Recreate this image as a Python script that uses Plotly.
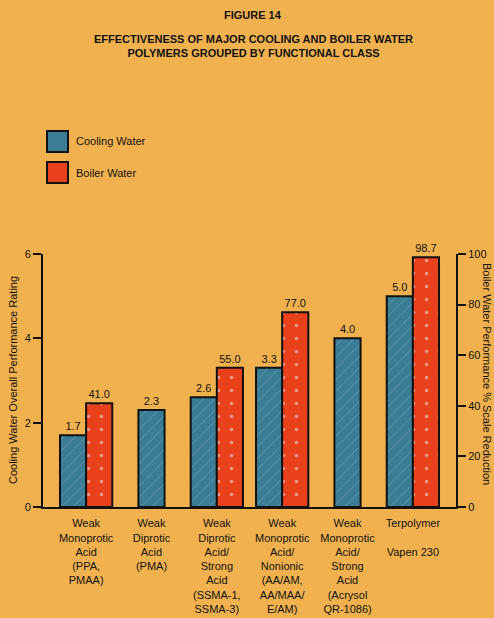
import plotly.graph_objects as go

categories = [
    "Weak<br>Monoprotic<br>Acid<br>(PPA,<br>PMAA)",
    "Weak<br>Diprotic<br>Acid<br>(PMA)",
    "Weak<br>Diprotic<br>Acid/<br>Strong<br>Acid<br>(SSMA-1,<br>SSMA-3)",
    "Weak<br>Monoprotic<br>Acid/<br>Nonionic<br>(AA/AM,<br>AA/MAA/<br>E/AM)",
    "Weak<br>Monoprotic<br>Acid/<br>Strong<br>Acid<br>(Acrysol<br>QR-1086)",
    "Terpolymer<br><br>Vapen 230",
]
cooling = [1.7, 2.3, 2.6, 3.3, 4.0, 5.0]
boiler = [41.0, None, 55.0, 77.0, None, 98.7]
cooling_ticks = [0, 2, 4, 6]
boiler_ticks = [0, 20, 40, 60, 80, 100]

W, H = 494, 618
L, R, T, B = 43, 456, 254, 507
BG = "#F1B14F"
BLUE = "#3C7D96"
RED = "#E9411B"
FONT = "Liberation Sans, Arial, sans-serif"

idx = list(range(len(categories)))
bw = 0.4
cool_x = [i - bw / 2 if b is not None else i for i, b in zip(idx, boiler)]
boil_x = [i + bw / 2 for i, b in zip(idx, boiler) if b is not None]
boil_y = [b for b in boiler if b is not None]

fig = go.Figure()
fig.add_trace(go.Bar(
    x=cool_x, y=cooling, width=bw, name="Cooling Water",
    marker=dict(color=BLUE, line=dict(color="#111", width=2),
                pattern=dict(shape="/", fgcolor="#d8ecf2", fgopacity=0.35, size=8, solidity=0.08)),
    texttemplate="%{y:.1f}", textposition="outside", cliponaxis=False,
    constraintext="none", textfont=dict(size=11, color="#111", family=FONT),
    yaxis="y",
))
fig.add_trace(go.Bar(
    x=boil_x, y=boil_y, width=bw, name="Boiler Water",
    marker=dict(color=RED, line=dict(color="#111", width=2),
                pattern=dict(shape=".", fgcolor="#ffffff", fgopacity=0.45, size=13, solidity=0.06)),
    texttemplate="%{y:.1f}", textposition="outside", cliponaxis=False,
    constraintext="none", textfont=dict(size=11, color="#111", family=FONT),
    yaxis="y2",
))

# pixel -> paper helpers
def px(x):
    return (x - L) / (R - L)

def py(y):
    return (B - y) / (B - T)

shapes = []
annotations = []
# legend boxes
for (y0, y1, col, label) in [(131, 152, BLUE, "Cooling Water"), (162, 183, RED, "Boiler Water")]:
    shapes.append(dict(type="rect", xref="paper", yref="paper",
                       x0=px(47), x1=px(68), y0=py(y1), y1=py(y0),
                       fillcolor=col, line=dict(color="#111", width=2)))
    annotations.append(dict(text=label, xref="paper", yref="paper", x=px(74), y=py((y0 + y1) / 2),
                            xanchor="left", yanchor="middle", showarrow=False,
                            font=dict(size=11, color="#111", family=FONT)))

# titles
annotations.append(dict(text="<b>FIGURE 14</b>", xref="paper", yref="paper", x=px(253), y=py(15),
                        xanchor="center", yanchor="middle", showarrow=False,
                        font=dict(size=11, color="#111", family=FONT)))
annotations.append(dict(text="<b>EFFECTIVENESS OF MAJOR COOLING AND BOILER WATER<br>POLYMERS GROUPED BY FUNCTIONAL CLASS</b>",
                        xref="paper", yref="paper", x=px(253), y=py(46),
                        xanchor="center", yanchor="middle", showarrow=False,
                        font=dict(size=11, color="#111", family=FONT)))
# axis titles
annotations.append(dict(text="Cooling Water Overall Performance Rating", xref="paper", yref="paper",
                        x=px(13), y=py(380), xanchor="center", yanchor="middle", textangle=-90,
                        showarrow=False, font=dict(size=11, color="#111", family=FONT)))
annotations.append(dict(text="Boiler Water Performance % Scale Reduction", xref="paper", yref="paper",
                        x=px(487), y=py(374), xanchor="center", yanchor="middle", textangle=90,
                        showarrow=False, font=dict(size=11, color="#111", family=FONT)))

fig.update_layout(
    width=W, height=H,
    margin=dict(l=L, r=W - R, t=T, b=H - B),
    paper_bgcolor=BG, plot_bgcolor=BG,
    barmode="overlay", showlegend=False,
    font=dict(family=FONT, size=11, color="#111"),
    xaxis=dict(range=[-0.66, 5.66], tickvals=idx, ticktext=categories, automargin=False,
               showgrid=False, zeroline=False, showline=True, linecolor="#111", linewidth=2,
               ticks="outside", ticklen=5, tickcolor="rgba(0,0,0,0)", tickfont=dict(size=11), tickangle=0),
    yaxis=dict(range=[0, 6], tickvals=cooling_ticks, showgrid=False, zeroline=False, automargin=False,
               showline=True, linecolor="#111", linewidth=2, ticks="outside", ticklen=8,
               tickwidth=2, tickcolor="#111", tickfont=dict(size=11)),
    yaxis2=dict(range=[0, 100], tickvals=boiler_ticks, overlaying="y", side="right", automargin=False,
                showgrid=False, zeroline=False, showline=True, linecolor="#111", linewidth=2,
                ticks="outside", ticklen=8, tickwidth=2, tickcolor="#111", tickfont=dict(size=11)),
    shapes=shapes, annotations=annotations,
)

fig.write_html("out.html")
